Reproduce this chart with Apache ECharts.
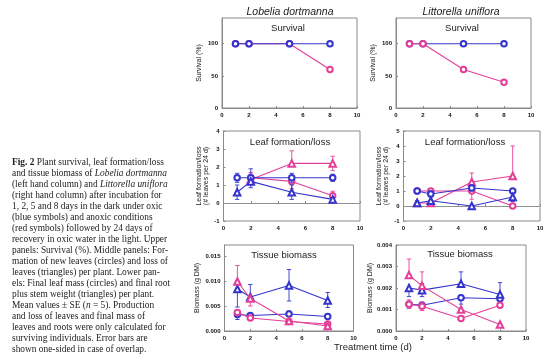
<!DOCTYPE html>
<html><head><meta charset="utf-8">
<script src="https://cdn.jsdelivr.net/npm/echarts@6/dist/echarts.min.js"></script>
<style>html,body{margin:0;padding:0;background:#fff}#c{width:554px;height:364px}</style>
</head><body><div id="c"></div>
<script>
// ---------- data ----------
const days = [1, 2, 5, 8];
const xTicks = [0, 2, 4, 6, 8, 10];

// Survival (%)
const survOxLob = [100, 100, 100, 100];
const survAnLob = [100, 100, 100, 60];
const survOxLit = [100, 100, 100, 100];
const survAnLit = [100, 100, 60, 40];

// Leaf formation (circles) / loss (triangles), leaves per 24 d
const newOxLob = [1.4, 1.4, 1.4, 1.4];
const newOxLobUp = [0.25, 0.5, 0.25, 0.2];
const newOxLobDn = [0.25, 0, 0.25, 0.2];
const lossOxLob = [0.6, 1.2, 0.6, 0.2];
const lossOxLobUp = [0.4, 0, 0.4, 0.1];
const lossOxLobDn = [0.4, 0.35, 0.4, 0.1];
const newAnLob = [null, 1.4, 1.2, 0.4];
const newAnLobUp = [0, 0.3, 0, 0.25];
const newAnLobDn = [0, 0, 0.4, 0];
const lossAnLob = [null, 1.3, 2.2, 2.2];
const lossAnLobUp = [0, 0.3, 0.7, 0.4];
const lossAnLobDn = [0, 0.3, 0, 0.4];

const newOxLit = [1.0, 0.8, 1.2, 1.0];
const newOxLitUp = [0, 0.2, 0.2, 0.1];
const newOxLitDn = [0, 0.2, 0.2, 0.1];
const lossOxLit = [0.2, 0.35, 0.0, 0.6];
const lossOxLitUp = [0.15, 0.4, 0, 0.3];
const lossOxLitDn = [0.1, 0, 0, 0.3];
const newAnLit = [1.0, 1.0, 1.0, 0.0];
const newAnLitUp = [0, 0, 0, 0];
const newAnLitDn = [0, 0, 0.55, 0];
const lossAnLit = [0.2, 0.2, 1.6, 2.0];
const lossAnLitUp = [0, 0, 0.6, 2.0];
const lossAnLitDn = [0, 0, 0, 0];

// Tissue biomass (g DM): leaves (circles), roots + stem (triangles)
const leafOxLob = [0.0033, 0.0031, 0.0034, 0.0029];
const leafOxLobUp = [0, 0.0004, 0.0006, 0];
const leafOxLobDn = [0.001, 0, 0, 0.0003];
const rootOxLob = [0.0084, 0.0068, 0.0091, 0.0061];
const rootOxLobUp = [0, 0.0025, 0.0032, 0.0016];
const rootOxLobDn = [0.0036, 0, 0.0031, 0.0014];
const leafAnLob = [0.0037, 0.0026, 0.0019, 0.0014];
const leafAnLobUp = [0.0004, 0, 0, 0];
const leafAnLobDn = [0, 0, 0, 0];
const rootAnLob = [0.0099, 0.0065, 0.0020, 0.0010];
const rootAnLobUp = [0.0032, 0, 0, 0];
const rootAnLobDn = [0, 0.0015, 0, 0];

const leafOxLit = [0.00125, 0.0012, 0.00155, 0.0015];
const leafOxLitUp = [0, 0, 0, 0];
const leafOxLitDn = [0, 0, 0.0003, 0];
const rootOxLit = [0.0020, 0.0019, 0.0022, 0.0017];
const rootOxLitUp = [0, 0.0003, 0.00055, 0.00055];
const rootOxLitDn = [0.0004, 0.0003, 0, 0];
const leafAnLit = [0.00125, 0.00115, 0.00058, 0.0012];
const leafAnLitUp = [0.0002, 0.0002, 0, 0];
const leafAnLitDn = [0.0002, 0.0002, 0.0001, 0];
const rootAnLit = [0.0026, 0.0021, 0.0010, 0.0003];
const rootAnLitUp = [0.00075, 0.00065, 0, 0];
const rootAnLitDn = [0, 0, 0, 0];

const captionLines = [
  "{b|Fig. 2} Plant survival, leaf formation/loss",
  "and tissue biomass of {i|Lobelia dortmanna}",
  "(left hand column) and {i|Littorella uniflora}",
  "(right hand column) after incubation for",
  "1, 2, 5 and 8 days in the dark under oxic",
  "(blue symbols) and anoxic conditions",
  "(red symbols) followed by 24 days of",
  "recovery in oxic water in the light. Upper",
  "panels: Survival (%). Middle panels: For-",
  "mation of new leaves (circles) and loss of",
  "leaves (triangles) per plant. Lower pan-",
  "els: Final leaf mass (circles) and final root",
  "plus stem weight (triangles) per plant.",
  "Mean values \u00b1 SE ({i|n} = 5). Production",
  "and loss of leaves and final mass of",
  "leaves and roots were only calculated for",
  "surviving individuals. Error bars are",
  "shown one-sided in case of overlap."
];

// ---------- styling / layout ----------
const BLUE = '#3434cc';
const RED = '#e43f98';
const GRID_C = '#8a8a8a';
const grids = [
  {left: 222, top: 18, width: 135, height: 90},
  {left: 396, top: 18, width: 135, height: 90},
  {left: 223.5, top: 131, width: 136.5, height: 90},
  {left: 403.5, top: 131, width: 136.5, height: 90},
  {left: 224.5, top: 245, width: 129, height: 86},
  {left: 396, top: 245, width: 130, height: 86}
];
const yCfg = [
  {min: 0, max: 140, interval: 50, name: 'Survival (%)', fmt: v => String(v), gap: 19},
  {min: 0, max: 140, interval: 50, name: 'Survival (%)', fmt: v => String(v), gap: 19},
  {min: -1, max: 4, interval: 1, name: 'Leaf formation/loss\n(# leaves per 24 d)', fmt: v => String(v), gap: 14},
  {min: -1, max: 5, interval: 1, name: 'Leaf formation/loss\n(# leaves per 24 d)', fmt: v => String(v), gap: 14},
  {min: 0, max: 0.0172, interval: 0.005, name: 'Biomass (g DM)', fmt: v => v.toFixed(3), gap: 24},
  {min: 0, max: 0.004, interval: 0.001, name: 'Biomass (g DM)', fmt: v => v.toFixed(3), gap: 22}
];
const tickFont = {fontSize: 6, fontWeight: 'bold', color: '#111', fontFamily: 'Liberation Sans, Arial, sans-serif'};

const xAxes = grids.map((g, i) => ({
  gridIndex: i, type: 'value', min: 0, max: 10, interval: 2,
  axisLine: {show: true, lineStyle: {color: GRID_C, width: 1}},
  axisTick: {show: true, inside: true, length: 2, lineStyle: {color: GRID_C}},
  axisLabel: Object.assign({margin: 4, formatter: v => xTicks.includes(v) ? String(v) : ''}, tickFont),
  splitLine: {show: false}
}));
const yAxes = yCfg.map((c, i) => ({
  gridIndex: i, type: 'value', min: c.min, max: c.max, interval: c.interval,
  name: c.name, nameLocation: 'middle', nameRotate: 90, nameGap: c.gap,
  nameTextStyle: {fontSize: 7, color: '#222', fontFamily: 'Liberation Sans, Arial, sans-serif', lineHeight: 7},
  axisLine: {show: true, lineStyle: {color: GRID_C, width: 1}},
  axisTick: {show: true, inside: true, length: 2, lineStyle: {color: GRID_C}},
  axisLabel: Object.assign({margin: 4, showMaxLabel: Math.abs(c.max / c.interval - Math.round(c.max / c.interval)) < 1e-9, formatter: c.fmt}, tickFont),
  splitLine: {show: false}
}));

const series = [];
function errRender(params, api) {
  const x = api.value(0), y = api.value(1), up = api.value(2), dn = api.value(3);
  const color = api.visual('color');
  const t = api.coord([x, y + up]), b = api.coord([x, y - dn]);
  const hw = 2.2;
  const st = {stroke: color, lineWidth: 0.9};
  const ch = [{type: 'line', shape: {x1: t[0], y1: t[1], x2: b[0], y2: b[1]}, style: st}];
  if (up > 0) ch.push({type: 'line', shape: {x1: t[0] - hw, y1: t[1], x2: t[0] + hw, y2: t[1]}, style: st});
  if (dn > 0) ch.push({type: 'line', shape: {x1: b[0] - hw, y1: b[1], x2: b[0] + hw, y2: b[1]}, style: st});
  return {type: 'group', children: ch};
}
function addSet(gi, ys, up, dn, color, symbol, z, zeroLine) {
  const pts = [], errs = [];
  days.forEach((d, i) => {
    if (ys[i] == null) return;
    pts.push([d, ys[i]]);
    if (up && dn && (up[i] > 0 || dn[i] > 0)) errs.push([d, ys[i], up[i], dn[i]]);
  });
  if (errs.length) series.push({
    type: 'custom', xAxisIndex: gi, yAxisIndex: gi, data: errs, renderItem: errRender,
    itemStyle: {color: color}, z: z, silent: true, clip: false
  });
  const s = {
    type: 'line', xAxisIndex: gi, yAxisIndex: gi, data: pts,
    symbol: symbol, symbolSize: symbol === 'emptyTriangle' ? 6.5 : 5.5,
    lineStyle: {color: color, width: 1.1}, itemStyle: {color: color, borderWidth: 1.1},
    z: z + 1, silent: true
  };
  if (zeroLine) s.markLine = {
    silent: true, symbol: 'none', label: {show: false},
    lineStyle: {type: 'dashed', color: '#9a9a9a', width: 0.7}, data: [{yAxis: 0}], z: 1
  };
  series.push(s);
}

// Survival
addSet(0, survAnLob, null, null, RED, 'emptyCircle', 2);
addSet(0, survOxLob, null, null, BLUE, 'emptyCircle', 4);
addSet(1, survOxLit, null, null, BLUE, 'emptyCircle', 2);
addSet(1, survAnLit, null, null, RED, 'emptyCircle', 4);
// Leaf formation/loss
addSet(2, newAnLob, newAnLobUp, newAnLobDn, RED, 'emptyCircle', 2, true);
addSet(2, lossAnLob, lossAnLobUp, lossAnLobDn, RED, 'emptyTriangle', 2);
addSet(2, newOxLob, newOxLobUp, newOxLobDn, BLUE, 'emptyCircle', 4);
addSet(2, lossOxLob, lossOxLobUp, lossOxLobDn, BLUE, 'emptyTriangle', 4);
addSet(3, newAnLit, newAnLitUp, newAnLitDn, RED, 'emptyCircle', 2, true);
addSet(3, lossAnLit, lossAnLitUp, lossAnLitDn, RED, 'emptyTriangle', 2);
addSet(3, newOxLit, newOxLitUp, newOxLitDn, BLUE, 'emptyCircle', 4);
addSet(3, lossOxLit, lossOxLitUp, lossOxLitDn, BLUE, 'emptyTriangle', 4);
// Tissue biomass
addSet(4, leafOxLob, leafOxLobUp, leafOxLobDn, BLUE, 'emptyCircle', 2);
addSet(4, rootOxLob, rootOxLobUp, rootOxLobDn, BLUE, 'emptyTriangle', 2);
addSet(4, leafAnLob, leafAnLobUp, leafAnLobDn, RED, 'emptyCircle', 4);
addSet(4, rootAnLob, rootAnLobUp, rootAnLobDn, RED, 'emptyTriangle', 4);
addSet(5, leafOxLit, leafOxLitUp, leafOxLitDn, BLUE, 'emptyCircle', 2);
addSet(5, rootOxLit, rootOxLitUp, rootOxLitDn, BLUE, 'emptyTriangle', 2);
addSet(5, leafAnLit, leafAnLitUp, leafAnLitDn, RED, 'emptyCircle', 4);
addSet(5, rootAnLit, rootAnLitUp, rootAnLitDn, RED, 'emptyTriangle', 4);

// ---------- texts ----------
const SANS = 'Liberation Sans, Arial, sans-serif';
const SERIF = 'Liberation Serif, Times New Roman, serif';
const graphics = [];
function label(text, x, y, size, extra) {
  graphics.push({type: 'text', x: x, y: y, z: 10, silent: true,
    style: Object.assign({text: text, fontSize: size, fontFamily: SANS, fill: '#222', align: 'center', verticalAlign: 'middle'}, extra || {})});
}
label('Lobelia dortmanna', 290, 12, 10.5, {fontStyle: 'italic'});
label('Littorella uniflora', 461, 12, 10.5, {fontStyle: 'italic'});
label('Survival', 288, 28, 9.5);
label('Survival', 462, 28, 9.5);
label('Leaf formation/loss', 290, 142, 9.5);
label('Leaf formation/loss', 465, 142, 9.5);
label('Tissue biomass', 284, 255, 9.5);
label('Tissue biomass', 460, 254, 9.5);
label('Treatment time (d)', 373, 347, 9.5);

const CAP = 9.4;
captionLines.forEach((ln, i) => {
  graphics.push({type: 'text', x: 12, y: 163 + i * 11, z: 10, silent: true,
    style: {text: ln, fontSize: CAP, fontFamily: SERIF, fill: '#222', align: 'left', verticalAlign: 'middle',
      rich: {b: {fontWeight: 'bold', fontSize: CAP, fontFamily: SERIF, fill: '#222'},
             i: {fontStyle: 'italic', fontSize: CAP, fontFamily: SERIF, fill: '#222'}}}});
});

const chart = echarts.init(document.getElementById('c'), null, {renderer: 'canvas'});
chart.setOption({
  animation: false,
  backgroundColor: '#fff',
  grid: grids.map(g => Object.assign({show: true, borderColor: GRID_C, borderWidth: 1, backgroundColor: 'transparent'}, g)),
  xAxis: xAxes,
  yAxis: yAxes,
  series: series,
  graphic: graphics
});
</script>
</body></html>
